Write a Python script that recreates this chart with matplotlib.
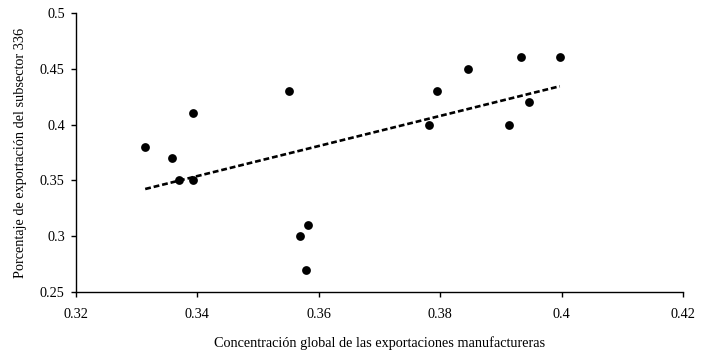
import matplotlib
matplotlib.use("Agg")
from matplotlib import pyplot as plt
import numpy as np

plt.rcParams['font.family'] = ['Liberation Serif', 'DejaVu Serif']

# concentracion global (x) vs porcentaje subsector 336 (y)
concentracion = [0.3314, 0.3358, 0.3370, 0.3392, 0.3392, 0.3551, 0.3569, 0.3583,
                 0.3579, 0.3782, 0.3794, 0.3845, 0.3933, 0.3997, 0.3946, 0.3914]
porcentaje = [0.38, 0.37, 0.35, 0.35, 0.41, 0.43, 0.30, 0.31,
              0.27, 0.40, 0.43, 0.45, 0.46, 0.46, 0.42, 0.40]
x_ticks = [0.32, 0.34, 0.36, 0.38, 0.4, 0.42]
y_ticks = [0.25, 0.3, 0.35, 0.4, 0.45, 0.5]

x = np.array(concentracion)
y = np.array(porcentaje)

fig = plt.figure(figsize=(7.09, 3.58), dpi=100)
ax = fig.add_axes([76/709, 1-292.3/358, (683-76)/709, (292.3-12.7)/358])

ax.scatter(x, y, s=40, color='black', zorder=3, linewidths=0)

# linea de tendencia
m, b = np.polyfit(x, y, 1)
xs = np.array([x.min(), x.max()])
ax.plot(xs, m*xs + b, color='black', lw=1.9, linestyle=(0, (2.2, 1.1)), zorder=2)

ax.set_xlim(0.32, 0.42)
ax.set_ylim(0.25, 0.5)
ax.set_xticks(x_ticks)
ax.set_xticklabels(['0.32', '0.34', '0.36', '0.38', '0.4', '0.42'])
ax.set_yticks(y_ticks)
ax.set_yticklabels(['0.25', '0.3', '0.35', '0.4', '0.45', '0.5'])
ax.spines['top'].set_visible(False)
ax.spines['right'].set_visible(False)
for s in ['left', 'bottom']:
    ax.spines[s].set_linewidth(1.0)
ax.tick_params(direction='out', length=3.6, width=1.0, labelsize=10.3, colors='black')
ax.tick_params(axis='x', pad=8)
ax.tick_params(axis='y', pad=4.5)

ax.set_xlabel('Concentración global de las exportaciones manufactureras', fontsize=10.3, labelpad=11)
ax.set_ylabel('Porcentaje de exportación del subsector 336', fontsize=10.3, labelpad=9)

fig.savefig('out.png', dpi=100)
